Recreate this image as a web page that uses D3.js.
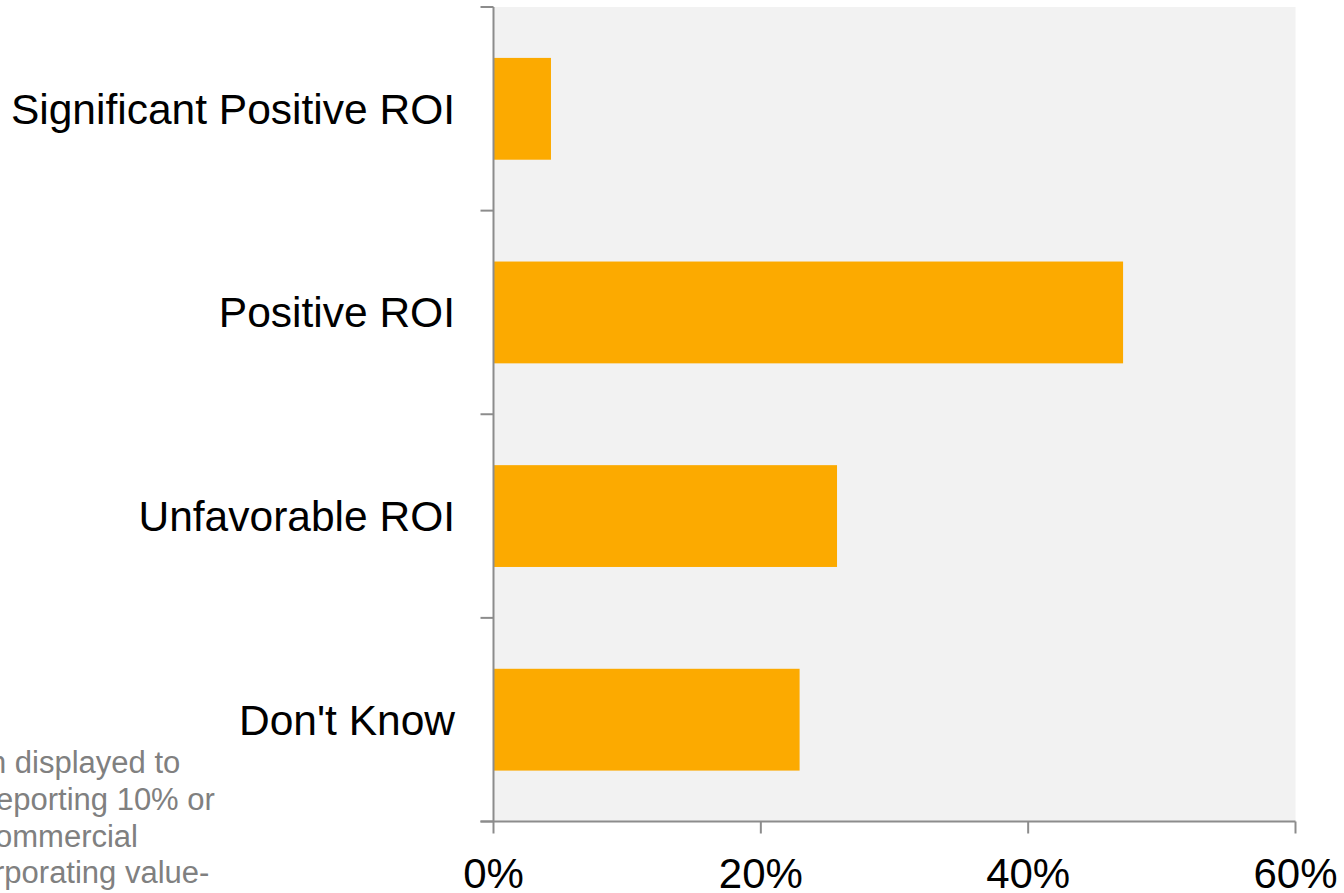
<!DOCTYPE html>
<html>
<head>
<meta charset="utf-8">
<script src="https://cdn.jsdelivr.net/npm/d3@7"></script>
<style>
  body { margin: 0; background: #fff; overflow: hidden; }
  svg { display: block; font-family: "Liberation Sans", Arial, sans-serif; }
</style>
</head>
<body>
<svg width="1344" height="893"></svg>
<script>
var categories = ["Significant Positive ROI", "Positive ROI", "Unfavorable ROI", "Don't Know"];
var values = [4.3, 47.1, 25.7, 22.9];
var xTicks = [0, 20, 40, 60];
var noteLines = ["n displayed to", "eporting 10% or", "ommercial", "rporating value-"];

var svg = d3.select("svg"),
    width = +svg.attr("width"),
    height = +svg.attr("height");

var plotLeft = 493.5, plotRight = 1295.5, plotTop = 7, plotBottom = 821.5;

var x = d3.scaleLinear()
    .domain([0, 60])
    .range([plotLeft, plotRight]);

var y = d3.scaleBand()
    .domain(categories)
    .range([plotTop, plotBottom])
    .paddingInner(0.5)
    .paddingOuter(0.25);

// footnote, cut off on the left
svg.append("g")
    .selectAll("text")
    .data(noteLines)
    .enter()
    .append("text")
    .attr("x", function (d, i) { return [-11, -4, -5, -6][i] })
    .attr("y", function (d, i) { return 773 + i * 36.8 })
    .style("fill", "#808080")
    .style("font-size", "31px")
    .text(function (d) { return d });

// plot background
svg.append("rect")
    .attr("x", plotLeft)
    .attr("y", plotTop)
    .attr("width", plotRight - plotLeft)
    .attr("height", plotBottom - plotTop)
    .attr("fill", "#f2f2f2");

// bars
svg.append("g")
    .selectAll("rect")
    .data(values)
    .enter()
    .append("rect")
    .attr("x", x(0) + 0.5)
    .attr("y", function (d, i) { return y(categories[i]) })
    .attr("width", function (d) { return x(d) - x(0) - 0.5 })
    .attr("height", y.bandwidth())
    .attr("fill", "#fcaa00");

// y axis
var axisColor = "#8c8c8c";
svg.append("line")
    .attr("x1", plotLeft).attr("x2", plotLeft)
    .attr("y1", plotTop).attr("y2", plotBottom)
    .attr("stroke", axisColor).attr("stroke-width", 2);

var boundaries = d3.range(categories.length + 1).map(function (i) { return plotTop + i * y.step() });
svg.append("g")
    .selectAll("line")
    .data(boundaries)
    .enter()
    .append("line")
    .attr("x1", plotLeft - 13).attr("x2", plotLeft)
    .attr("y1", function (d) { return d }).attr("y2", function (d) { return d })
    .attr("stroke", axisColor).attr("stroke-width", 2);

svg.append("g")
    .selectAll("text")
    .data(categories)
    .enter()
    .append("text")
    .attr("x", 455)
    .attr("y", function (d) { return y(d) + y.bandwidth() / 2 })
    .attr("dy", "0.35em")
    .attr("text-anchor", "end")
    .style("font-size", "42.5px")
    .style("fill", "#000")
    .text(function (d) { return d });

// x axis
svg.append("line")
    .attr("x1", plotLeft - 13).attr("x2", plotRight)
    .attr("y1", plotBottom).attr("y2", plotBottom)
    .attr("stroke", axisColor).attr("stroke-width", 2);

svg.append("g")
    .selectAll("line")
    .data(xTicks)
    .enter()
    .append("line")
    .attr("x1", function (d) { return x(d) }).attr("x2", function (d) { return x(d) })
    .attr("y1", plotBottom).attr("y2", plotBottom + 12)
    .attr("stroke", axisColor).attr("stroke-width", 2);

svg.append("g")
    .selectAll("text")
    .data(xTicks)
    .enter()
    .append("text")
    .attr("x", function (d) { return x(d) })
    .attr("y", 888)
    .attr("text-anchor", "middle")
    .style("font-size", "42px")
    .style("fill", "#000")
    .text(function (d) { return d + "%" });
</script>
</body>
</html>
